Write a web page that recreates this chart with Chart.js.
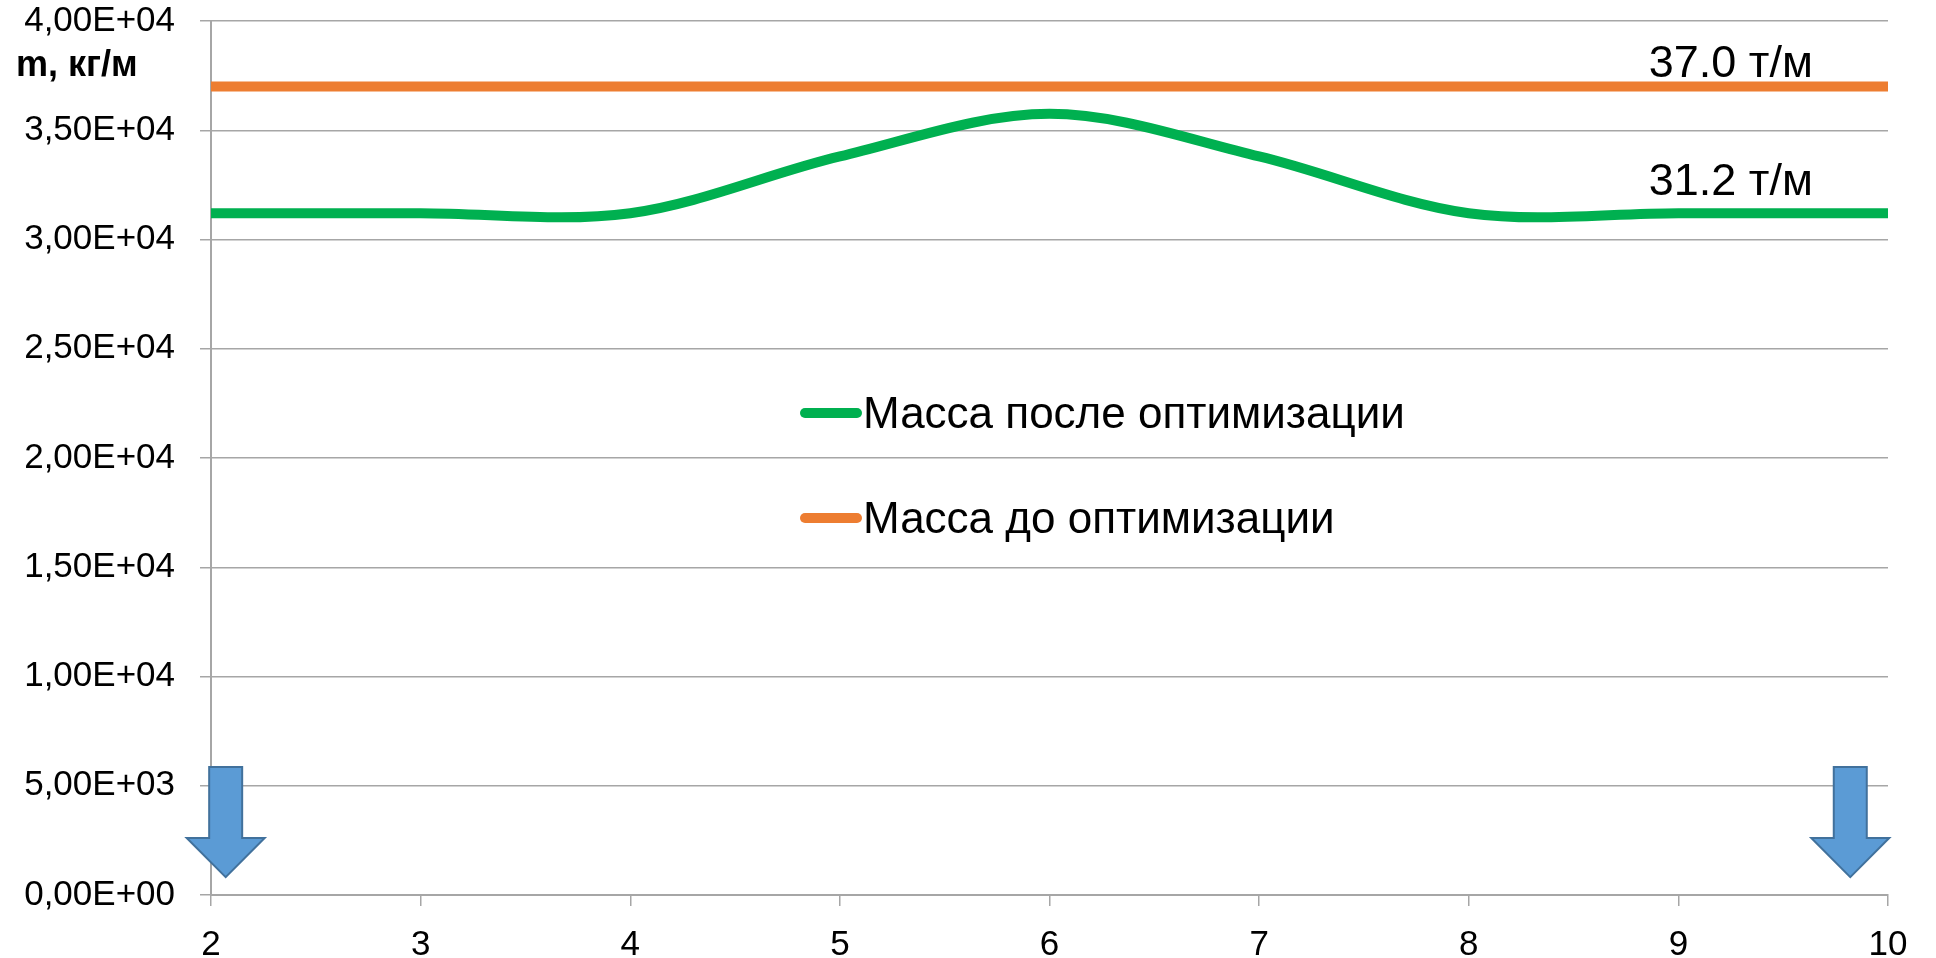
<!DOCTYPE html>
<html>
<head>
<meta charset="utf-8">
<script src="https://cdn.jsdelivr.net/npm/chart.js@4.4.1/dist/chart.umd.min.js"></script>
<style>
  html, body { margin: 0; padding: 0; background: #ffffff; }
  #wrap { width: 1936px; height: 958px; }
</style>
</head>
<body>
<div id="wrap"><canvas id="c" width="1936" height="958"></canvas></div>
<script>
// ---- data ----
const xValues = [2, 3, 4, 5, 6, 7, 8, 9, 10];
const massAfter = [31200, 31200, 31200, 33800, 35750, 33800, 31200, 31200, 31200];
const massBefore = [37000, 37000, 37000, 37000, 37000, 37000, 37000, 37000, 37000];
const seriesLabels = ['Масса после оптимизации', 'Масса до оптимизации'];
const yAxisTitle = 'm, кг/м';
const annotationTexts = ['37.0 т/м', '31.2 т/м'];
const annotationX = [9.25, 9.25];
const annotationY = [37430, 32030];
const arrowX = [2.07, 9.82];
const arrowTop = 5860, arrowHeadStart = 2610, arrowTip = 820;

const FONT = '"Liberation Sans", Arial, sans-serif';
const GREEN = '#00B050', ORANGE = '#ED7D31', GRID = '#A6A6A6';

function sci(v) {
  if (v === 0) return '0,00E+00';
  const e = Math.floor(Math.log10(Math.abs(v)) + 1e-9);
  const m = v / Math.pow(10, e);
  return m.toFixed(2).replace('.', ',') + 'E' + (e < 0 ? '-' : '+') + String(Math.abs(e)).padStart(2, '0');
}

const extras = {
  id: 'extras',
  afterDatasetsDraw(chart) {
    const ctx = chart.ctx;
    const xs = chart.scales.x, ys = chart.scales.y;
    ctx.save();
    // arrows
    arrowX.forEach(ax => {
      const cx = xs.getPixelForValue(ax);
      const yTop = ys.getPixelForValue(arrowTop);
      const yHead = ys.getPixelForValue(arrowHeadStart);
      const yTip = ys.getPixelForValue(arrowTip);
      const sw = 16.5, hw = 39;
      ctx.beginPath();
      ctx.moveTo(cx - sw, yTop);
      ctx.lineTo(cx + sw, yTop);
      ctx.lineTo(cx + sw, yHead);
      ctx.lineTo(cx + hw, yHead);
      ctx.lineTo(cx, yTip);
      ctx.lineTo(cx - hw, yHead);
      ctx.lineTo(cx - sw, yHead);
      ctx.closePath();
      ctx.fillStyle = '#5B9BD5';
      ctx.fill();
      ctx.lineWidth = 2;
      ctx.strokeStyle = '#41719C';
      ctx.stroke();
    });
    // value annotations
    ctx.fillStyle = '#000';
    ctx.font = '45px ' + FONT;
    ctx.textAlign = 'center';
    ctx.textBaseline = 'alphabetic';
    annotationTexts.forEach((t, i) => {
      ctx.fillText(t, xs.getPixelForValue(annotationX[i]), ys.getPixelForValue(annotationY[i]));
    });
    // legend inside plot
    const colors = [GREEN, ORANGE];
    const lx = 800, ly = [413, 518];
    ctx.font = '44px ' + FONT;
    ctx.textAlign = 'left';
    seriesLabels.forEach((lab, i) => {
      ctx.beginPath();
      ctx.moveTo(lx + 5, ly[i]);
      ctx.lineTo(lx + 57, ly[i]);
      ctx.lineWidth = 10;
      ctx.lineCap = 'round';
      ctx.strokeStyle = colors[i];
      ctx.stroke();
      ctx.fillStyle = '#000';
      ctx.fillText(lab, lx + 63, ly[i] + 15);
    });
    // y axis title
    ctx.font = 'bold 36px ' + FONT;
    ctx.textAlign = 'left';
    ctx.fillText(yAxisTitle, 16, 76);
    ctx.restore();
  }
};

new Chart(document.getElementById('c'), {
  type: 'line',
  data: {
    datasets: [
      {
        label: seriesLabels[0],
        data: xValues.map((x, i) => ({ x: x, y: massAfter[i] })),
        borderColor: GREEN,
        backgroundColor: GREEN,
        borderWidth: 10,
        pointRadius: 0,
        tension: 0.33,
        fill: false
      },
      {
        label: seriesLabels[1],
        data: xValues.map((x, i) => ({ x: x, y: massBefore[i] })),
        borderColor: ORANGE,
        backgroundColor: ORANGE,
        borderWidth: 10,
        pointRadius: 0,
        tension: 0,
        fill: false
      }
    ]
  },
  options: {
    responsive: false,
    devicePixelRatio: 1,
    animation: false,
    layout: { padding: { left: 0, right: 48, top: 21, bottom: 0 } },
    plugins: { legend: { display: false }, tooltip: { enabled: false } },
    scales: {
      x: {
        type: 'linear',
        min: 2, max: 10,
        afterFit: s => { s.height = 63; s.paddingLeft = 0; s.paddingRight = 0; },
        ticks: { stepSize: 1, color: '#000', font: { family: FONT, size: 35 }, padding: 18 },
        grid: { drawOnChartArea: false, drawTicks: true, tickLength: 11, color: GRID, lineWidth: 1.5 },
        border: { color: GRID, width: 2 }
      },
      y: {
        min: 0, max: 40000,
        afterFit: s => { s.width = 211; s.paddingTop = 0; s.paddingBottom = 0; },
        ticks: { stepSize: 5000, color: '#000', font: { family: FONT, size: 35 }, padding: 25, callback: v => sci(v) },
        grid: { drawTicks: true, tickLength: 11, color: GRID, lineWidth: 1.5 },
        border: { color: GRID, width: 2 }
      }
    }
  },
  plugins: [extras]
});
</script>
</body>
</html>
